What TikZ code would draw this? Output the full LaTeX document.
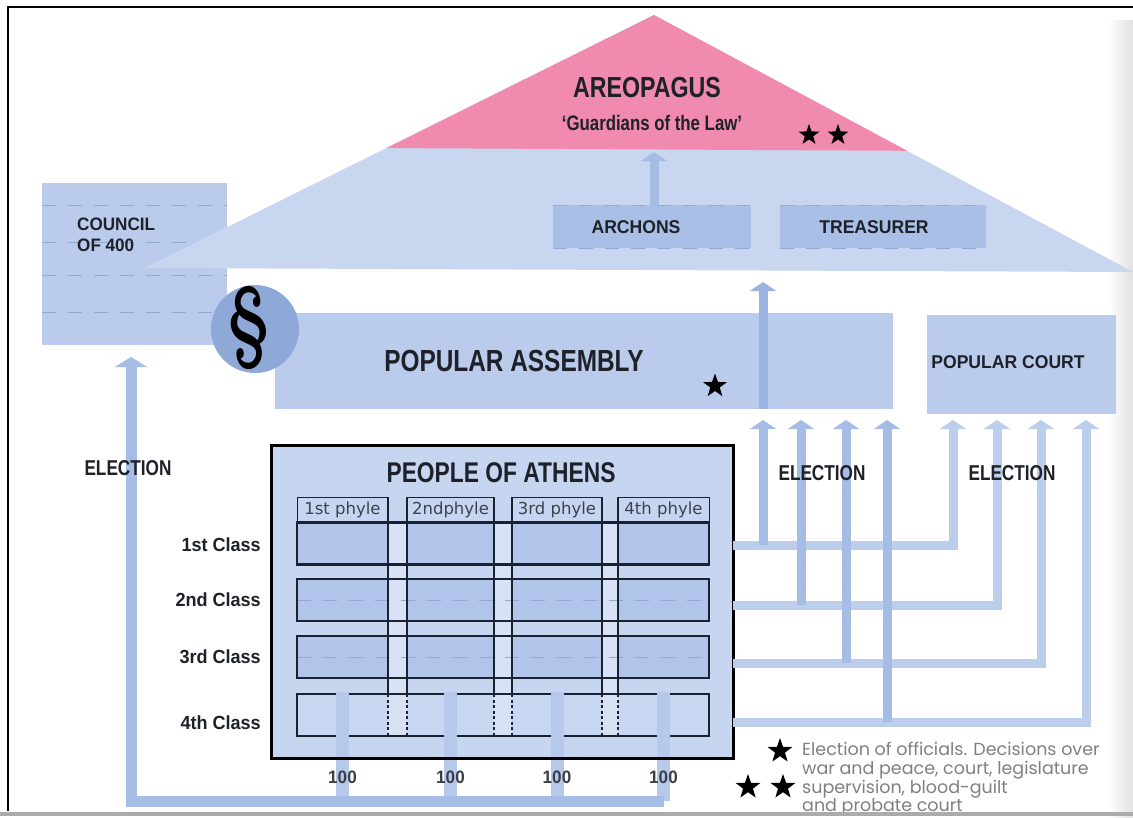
\documentclass[tikz,border=0pt]{standalone}
\usepackage{fontspec}
\usetikzlibrary{shapes.geometric,arrows.meta,calc}
\newfontfamily\cf{Liberation Sans}[FakeStretch=0.8]
\newfontfamily\cm{Liberation Sans}[FakeStretch=0.95]
\newfontfamily\phf{DejaVu Sans}
\newfontfamily\lgf{Poppins}
\definecolor{pyr}{HTML}{C8D6F0}
\definecolor{pinkA}{HTML}{F08AAE}
\definecolor{boxA}{HTML}{BACBEB}
\definecolor{boxB}{HTML}{A9BFE5}
\definecolor{circ}{HTML}{8EA8D8}
\definecolor{arrA}{HTML}{A5BCE5}
\definecolor{arrB}{HTML}{BDCDEC}
\definecolor{arrC}{HTML}{9AB3E0}
\definecolor{barc}{HTML}{B6C9EB}
\definecolor{rowA}{HTML}{B1C5EA}
\definecolor{rowD}{HTML}{C7D7F2}
\definecolor{peo}{HTML}{C6D6F1}
\definecolor{gapc}{HTML}{D7E2F6}
\definecolor{txt}{HTML}{1E2129}
\definecolor{rowline}{HTML}{1A2130}
\definecolor{texc}{HTML}{93A8D2}
\definecolor{lgc}{HTML}{808080}
\definecolor{hunc}{HTML}{3A3F48}
\begin{document}
\begin{tikzpicture}[x=1pt,y=-1pt,
  tbig/.style={inner sep=0,text=txt,font=\cf\bfseries\fontsize{#1}{#1}\selectfont},
  tmed/.style={inner sep=0,text=txt,font=\cm\bfseries\fontsize{#1}{#1}\selectfont},
  bx/.style={inner sep=0,outer sep=0},
  uparr/.style={line width=9pt,draw=#1,-{Triangle[width=26pt,length=9pt]}},
  starn/.style={star,star points=5,star point ratio=2.5,fill=black,inner sep=0,minimum size=#1},
  rowb/.style={draw=rowline,line width=2.4pt},
  coll/.style={draw=rowline,line width=1.1pt},
  texl/.style={draw=texc,line width=0.8pt,dash pattern=on 14pt off 12pt},
  lgs/.style={inner sep=0,text=lgc,font=\lgf\fontsize{17.5}{17.5}\selectfont,anchor=base west},
  phs/.style={bx,draw=rowline,line width=1pt,minimum height=26pt,text=rowline!85,font=\phf\fontsize{16.5}{16.5}\selectfont}
]
\useasboundingbox (0,0) rectangle (1133,817);
\fill[white] (0,0) rectangle (1133,817);
\shade[left color=white,right color=black!12] (1108,20) rectangle (1133,817);

% council of 400
\node[bx,fill=boxA,minimum width=185pt,minimum height=162pt] (council) at (134.5,264) {};
\foreach \yy in {205,242,275,312}
  \draw[texl] (council.west |- 0,\yy) -- (council.east |- 0,\yy);

% pyramid with the Areopagus
\fill[pyr] (654,15) -- (1133,272) -- (145,268) -- cycle;
\begin{scope}
  \clip (654,15) -- (1133,272) -- (145,268) -- cycle;
  \fill[pinkA] (0,0) -- (1133,0) -- (1133,152) -- (0,146) -- cycle;
\end{scope}
\coordinate (areo) at (654,152);

% archons and treasurer
\node[bx,fill=boxB,minimum width=198pt,minimum height=43pt] (archons) at (652,226.5) {};
\node[bx,fill=boxB,minimum width=206pt,minimum height=43pt] (treas) at (883,226.5) {};
\foreach \b in {archons,treas}{
  \draw[texl] (\b.north west) -- (\b.north east);
  \draw[texl] (\b.south west) -- (\b.south east);
}
\draw[uparr=arrA] (areo |- archons.north) -- (areo);

% popular assembly and court
\node[bx,fill=boxA,minimum width=618pt,minimum height=96pt] (pa) at (584,361) {};
\node[bx,fill=boxA,minimum width=189pt,minimum height=99pt] (court) at (1021.5,364.5) {};
\coordinate (pyr1) at (763,282);
\coordinate (pa1) at (763,420);
\coordinate (pa2) at (801,420);
\coordinate (pa3) at (846,420);
\coordinate (pa4) at (887,420);
\coordinate (ct1) at (953,420);
\coordinate (ct2) at (997,420);
\coordinate (ct3) at (1041,420);
\coordinate (ct4) at (1086,420);
\draw[uparr=arrC] (pa1 |- pa.south) -- (pyr1);

% paragraph circle
\node[circle,fill=circ,minimum size=88pt,inner sep=0] (sect) at (255,329) {};
\node[inner sep=0,text=black] (sectS) at (249,328) {\scalebox{0.7}[1]{\fontsize{90}{90}\selectfont\bfseries\S}};

% people of athens
\node[bx,fill=peo,minimum width=462pt,minimum height=313pt] (people) at (502,601.5) {};
\foreach \n/\yy/\cc in {1/543.5/rowA,2/600/rowA,3/657/rowA,4/715/rowD}
  \node[bx,fill=\cc,minimum width=412pt,minimum height=42pt] (row\n) at (503,\yy) {};
\node[phs,minimum width=91pt] (ph1) at (342.5,510) {1st phyle};
\node[phs,minimum width=87pt] (ph2) at (450.5,510) {2ndphyle};
\node[phs,minimum width=90pt] (ph3) at (557,510) {3rd phyle};
\node[phs,minimum width=91pt] (ph4) at (663.5,510) {4th phyle};
\foreach \a/\b in {ph1/ph2,ph2/ph3,ph3/ph4}
  \fill[gapc] (\a.north east |- row1.north) rectangle (\b.north west |- row4.south);
\foreach \r in {2,3}
  \draw[texl] (row\r.west) -- (row\r.east);
\foreach \p/\s in {ph1/north east,ph2/north west,ph2/north east,ph3/north west,ph3/north east,ph4/north west}{
  \draw[coll] (\p.\s) -- (\p.\s |- row4.north);
  \draw[coll,dash pattern=on 3pt off 2.5pt] (\p.\s |- row4.north) -- (\p.\s |- row4.south);
}
\foreach \r in {1,2,3,4}
  \draw[rowb] (row\r.north west) rectangle (row\r.south east);

% the hundreds and the election of the council
\coordinate (busL) at (131,801);
\coordinate (cTip) at (131,357);
\foreach \p in {ph1,ph2,ph3,ph4}
  \draw[line width=13pt,draw=barc] (\p.center |- busL) -- ($(\p.center |- row4.north)+(0,-2)$);
\draw[line width=11pt,draw=arrA,-{Triangle[width=32pt,length=10pt]}] (ph4.center |- busL) -| (cTip);
\draw[line width=3pt,draw=black] (people.north west) rectangle (people.south east);

% elections from the classes
\coordinate (b1) at (people.east |- 0,545);
\coordinate (b2) at (people.east |- 0,605);
\coordinate (b3) at (people.east |- 0,663);
\coordinate (b4) at (people.east |- 0,722);
\foreach \k in {1,2,3,4}{
  \draw[uparr=arrB] (b\k) -| (ct\k);
  \draw[uparr=arrA] (pa\k |- b\k) -- (pa\k);
}

% texts
\node[tbig=29] (areoT) at (647,88) {AREOPAGUS};
\node[tbig=21] (guardT) at (652,123) {‘Guardians of the Law’};
\node[starn=22pt] (st1) at (809,135) {};
\node[starn=22pt] (st2) at (838,135) {};
\node[inner sep=0,text=txt,font=\cm\bfseries\fontsize{18}{20.5}\selectfont,align=left,anchor=north west] (councilT) at (77,218) {COUNCIL\\OF 400};
\node[tmed=18.5] (archT) at (636,227) {ARCHONS};
\node[tmed=18.5] (treasT) at (874,227) {TREASURER};
\node[tbig=30.5] (paT) at (514,361) {POPULAR ASSEMBLY};
\node[starn=25pt] (st3) at (715,386) {};
\node[tmed=18.5] (courtT) at (1008,362) {POPULAR COURT};
\node[tbig=21.5] (el1) at (128,468) {ELECTION};
\node[tbig=21.5] (el2) at (822,473) {ELECTION};
\node[tbig=21.5] (el3) at (1012,473) {ELECTION};
\node[tbig=28.5] (peopleT) at (501,473) {PEOPLE OF ATHENS};
\node[tmed=19,anchor=east] (cl1) at (261,545) {1st Class};
\node[tmed=19,anchor=east] (cl2) at (261,600) {2nd Class};
\node[tmed=19,anchor=east] (cl3) at (261,657) {3rd Class};
\node[tmed=19,anchor=east] (cl4) at (261,723) {4th Class};
\foreach \p [count=\i] in {ph1,ph2,ph3,ph4}
  \node[tmed=18,text=hunc] (h\i) at (\p.center |- 0,777) {100};

% legend
\node[starn=26pt] (ls1) at (780,751) {};
\node[starn=26pt] (ls2) at (748,787) {};
\node[starn=26pt] (ls3) at (783,787) {};
\node[lgs] (lg1) at (802,755) {Election of officials. Decisions over};
\node[lgs] (lg2) at (802,774) {war and peace, court, legislature};
\node[lgs] (lg3) at (802,793) {supervision, blood-guilt};
\node[lgs] (lg4) at (802,811) {and probate court};

% frame
\draw[line width=4pt,draw=black!33] (0,814) -- (1133,814);
\draw[line width=2.5pt,draw=black] (1133,7) -- (8,7) -- (8,811);
\end{tikzpicture}
\end{document}
